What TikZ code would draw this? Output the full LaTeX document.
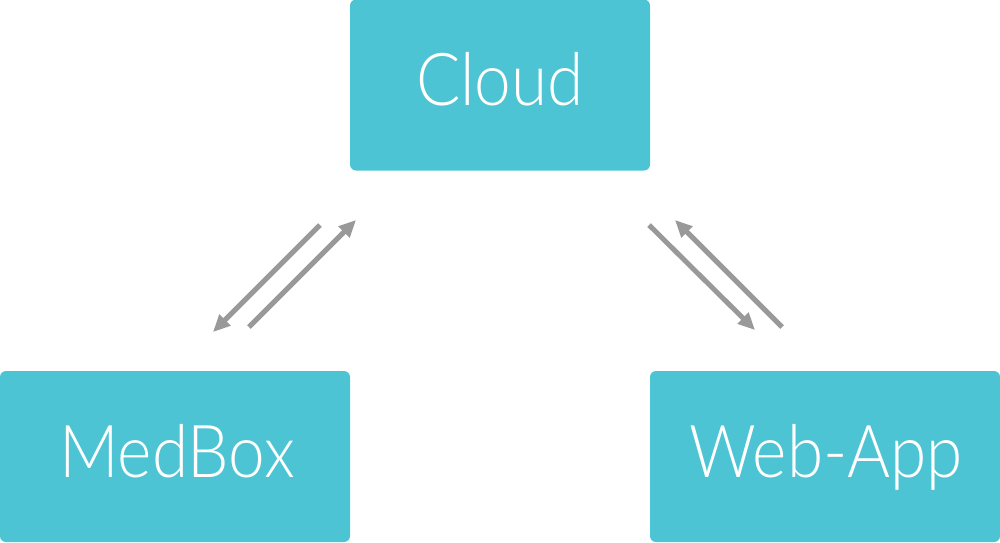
\documentclass[tikz,border=0pt]{standalone}
\usepackage{fontspec}
\setmainfont{Lato}[UprightFont={* Light}, FakeStretch=0.9]
\usetikzlibrary{arrows.meta}
\definecolor{boxcol}{HTML}{4DC4D3}
\definecolor{arrcol}{HTML}{999999}
\tikzset{
  box/.style={fill=boxcol, draw=none, rounded corners=6pt, minimum width=300pt, minimum height=171pt, inner sep=0pt},
  lbl/.style={text=white, font=\fontsize{73}{80}\selectfont, anchor=base, inner sep=0pt},
  conn/.style={draw=arrcol, line width=5pt, -{Triangle[length=17pt,width=15pt]}}
}
\begin{document}
\begin{tikzpicture}[x=1pt,y=-1pt]
\useasboundingbox (0,0) rectangle (1000,542);
\node[box] (cloud) at (500,85) {};
\node[box, minimum width=350pt] (medbox) at (175,456.5) {};
\node[box, minimum width=350pt] (webapp) at (825,456.5) {};
\node[lbl] (tcloud) at (500,105) {Cloud};
\node[lbl] (tmed) at (177,477) {MedBox};
\node[lbl] (tweb) at (826,477) {Web-App};
\coordinate (a1s) at (320,225);
\coordinate (a1e) at (213,332);
\coordinate (a2s) at (249,327);
\coordinate (a2e) at (356,220);
\coordinate (a3s) at (649,225);
\coordinate (a3e) at (755,330);
\coordinate (a4s) at (782,327);
\coordinate (a4e) at (675,220);
\draw[conn] (a1s) -- (a1e);
\draw[conn] (a2s) -- (a2e);
\draw[conn] (a3s) -- (a3e);
\draw[conn] (a4s) -- (a4e);
\end{tikzpicture}
\end{document}
